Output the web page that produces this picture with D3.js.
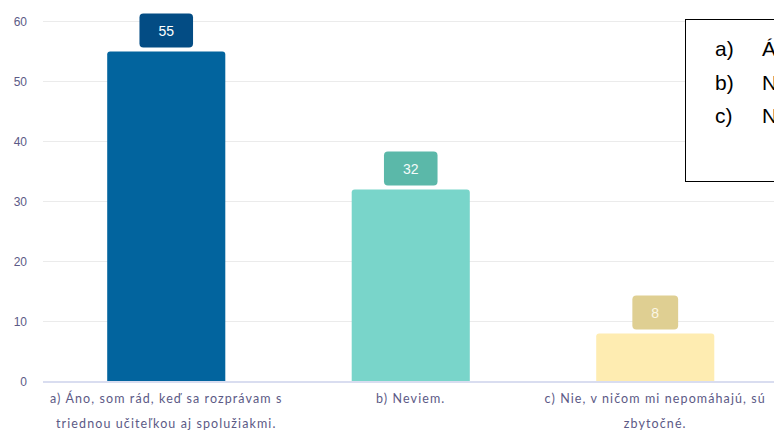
<!DOCTYPE html>
<html><head><meta charset="utf-8">
<script src="https://cdn.jsdelivr.net/npm/d3@7"></script>
<style>html,body{margin:0;padding:0;background:#fff;overflow:hidden}svg{display:block}</style>
</head><body><svg id="c" width="774" height="432"></svg>
<script>
const categories = ["a", "b", "c"];
const categoryLines = [
  ["a) Áno, som rád, keď sa rozprávam s", "triednou učiteľkou aj spolužiakmi."],
  ["b) Neviem."],
  ["c) Nie, v ničom mi nepomáhajú, sú", "zbytočné."]
];
const values = [55, 32, 8];
const barColors = ["#02649e", "#79d5ca", "#feecb1"];
const boxColors = ["#034c84", "#5bb8a9", "#dfcf92"];
const boxTextColors = ["#ffffff", "#f4fbfa", "#fbf6e4"];
const yTicks = [0, 10, 20, 30, 40, 50, 60];
const legendItems = ["a)", "b)", "c)"];
const legendTexts = ["Áno, som rád, keď sa rozprávam s triednou učiteľkou aj spolužiakmi.", "Neviem.", "Nie, v ničom mi nepomáhajú, sú zbytočné."];

const svg = d3.select("#c");
const x = d3.scaleBand().domain(categories).range([44, 777.5]).paddingInner(0.517).paddingOuter(0.2585);
const y = d3.scaleLinear().domain([0, 60]).range([381.5, 21.5]);

// gridlines
svg.append("g").selectAll("line").data(yTicks.filter(d => d > 0)).join("line")
  .attr("x1", 43).attr("x2", 774).attr("y1", d => y(d)).attr("y2", d => y(d))
  .attr("stroke", "#ebebeb").attr("stroke-width", 1);

// y axis
const ya = svg.append("g").attr("transform", "translate(27,0)")
  .call(d3.axisLeft(y).tickValues(yTicks).tickSize(0).tickPadding(0));
ya.select(".domain").remove();
ya.selectAll("text").attr("font-family", "Liberation Sans, Arial, sans-serif").attr("font-size", 12).attr("fill", "#5c5a86");

// bars
const rTop = 3;
function barPath(x0, w, yTop, yBot) {
  const r = Math.min(rTop, (yBot - yTop));
  return `M${x0},${yBot}V${yTop + r}Q${x0},${yTop} ${x0 + r},${yTop}H${x0 + w - r}Q${x0 + w},${yTop} ${x0 + w},${yTop + r}V${yBot}Z`;
}
svg.append("g").selectAll("path").data(values).join("path")
  .attr("d", (d, i) => barPath(x(categories[i]), x.bandwidth(), y(d), y(0)))
  .attr("fill", (d, i) => barColors[i]);

// x baseline
svg.append("line").attr("x1", 43).attr("x2", 774).attr("y1", y(0) + 0.5).attr("y2", y(0) + 0.5)
  .attr("stroke", "#d9ddf0").attr("stroke-width", 2);

// value boxes
const lab = svg.append("g").selectAll("g").data(values).join("g");
lab.each(function (d, i) {
  const g = d3.select(this);
  const cx = x(categories[i]) + x.bandwidth() / 2;
  const t = g.append("text").text(d).attr("x", cx).attr("y", y(d) - 21 + 5)
    .attr("text-anchor", "middle").attr("font-family", "Liberation Sans, Arial, sans-serif")
    .attr("font-size", 14).attr("fill", boxTextColors[i]);
  const w = t.node().getComputedTextLength() + 38;
  g.insert("rect", "text").attr("x", cx - w / 2).attr("y", y(d) - 38).attr("width", w).attr("height", 34)
    .attr("rx", 4).attr("fill", boxColors[i]);
});

// category labels
svg.append("g").selectAll("text").data(categoryLines).join("text")
  .attr("text-anchor", "middle").attr("font-family", "Lato, sans-serif").attr("font-size", 12.5)
  .attr("letter-spacing", 1.1)
  .attr("fill", "#5c5a86")
  .each(function (lines, i) {
    const cx = x(categories[i]) + x.bandwidth() / 2;
    d3.select(this).selectAll("tspan").data(lines).join("tspan")
      .attr("x", cx).attr("y", (l, j) => 403 + j * 25).text(l => l);
  });

// legend overlay box
svg.append("rect").attr("x", 685.5).attr("y", 19.5).attr("width", 120).attr("height", 162)
  .attr("fill", "#fff").attr("stroke", "#000").attr("stroke-width", 1);
const lg = svg.append("g").attr("font-family", "Liberation Sans, Arial, sans-serif").attr("font-size", 21).attr("fill", "#000");
legendItems.forEach((it, i) => {
  lg.append("text").attr("x", 715).attr("y", 56 + i * 33.5).text(it);
  lg.append("text").attr("x", 762).attr("y", 56 + i * 33.5).text(legendTexts[i]);
});
</script></body></html>
